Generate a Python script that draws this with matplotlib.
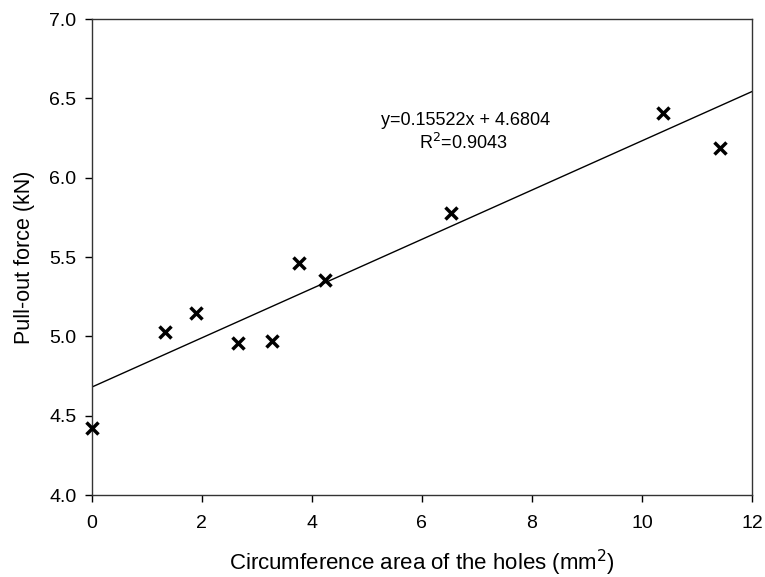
import numpy as np
import matplotlib.pyplot as plt

plt.rcParams['font.family'] = ['Liberation Sans', 'DejaVu Sans']

# measured data
area = [0.0, 1.33, 1.89, 2.65, 3.27, 3.76, 4.24, 6.53, 10.38, 11.42]
force = [4.42, 5.03, 5.15, 4.96, 4.97, 5.46, 5.355, 5.78, 6.41, 6.19]

# regression line
slope = 0.15522
intercept = 4.6804
r2 = 0.9043
x_fit = [0, 12]


def main():
    fig = plt.figure(figsize=(7.65, 5.77), dpi=100)
    ax = fig.add_axes([0.120, 0.142, 0.863, 0.825])

    y_fit = [slope * x + intercept for x in x_fit]
    ax.plot(x_fit, y_fit, color='black', linewidth=1.0)
    ax.plot(area, force, 'x', color='black', markersize=9, markeredgewidth=2.5,
            clip_on=False, zorder=3)

    ax.text(6.79, 6.36, f"y={slope}x + {intercept}", ha='center', va='center', fontsize=13)
    ax.text(6.76, 6.22, f"R$^2$={r2}", ha='center', va='center', fontsize=13)

    ax.set_xlim(0, 12)
    ax.set_ylim(4.0, 7.0)
    ax.set_xticks(range(0, 13, 2))
    ax.set_yticks(np.arange(4.0, 7.01, 0.5))
    ax.set_yticklabels([f"{v:.1f}" for v in np.arange(4.0, 7.01, 0.5)])
    ax.tick_params(labelsize=14, direction='out', length=5, width=1, pad=6)
    ax.tick_params(axis='x', pad=9)
    for s in ax.spines.values():
        s.set_linewidth(1.0)
        s.set_color('#333333')

    ax.set_xlabel("Circumference area of the holes (mm$^2$)", fontsize=16, labelpad=12)
    ax.set_ylabel("Pull-out force (kN)", fontsize=15.5, labelpad=10)

    fig.savefig("out.png", dpi=100)


if __name__ == "__main__":
    main()
